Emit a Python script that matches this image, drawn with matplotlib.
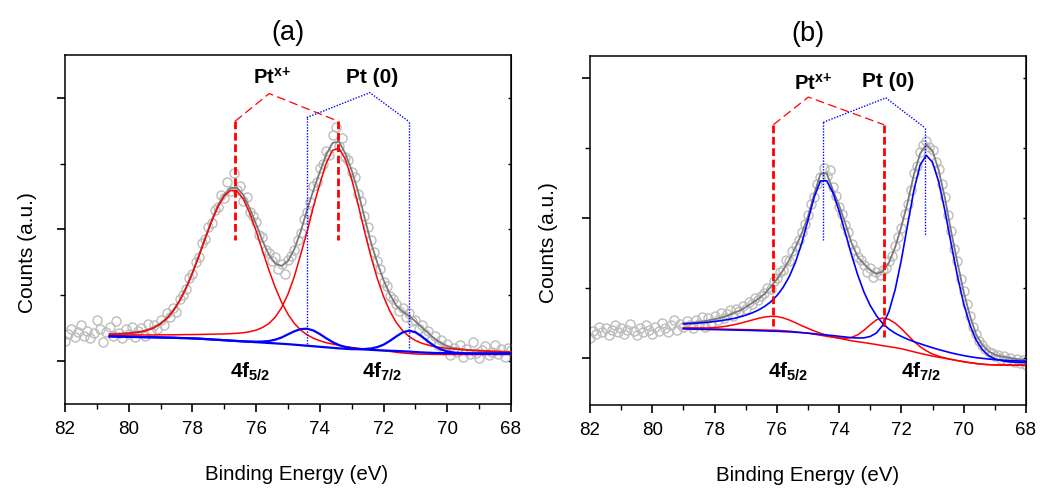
import numpy as np
import matplotlib.pyplot as plt
from matplotlib.ticker import MultipleLocator

plt.rcParams['font.family'] = 'Liberation Sans'
plt.rcParams['mathtext.fontset'] = 'custom'
plt.rcParams['mathtext.rm'] = 'Liberation Sans'
plt.rcParams['mathtext.bf'] = 'Liberation Sans:bold'
plt.rcParams['mathtext.it'] = 'Liberation Sans:italic'

# measured spectra: 82.0 -> 68.0 eV, 0.1 eV step
be_start, be_step = 82.0, 0.1
counts_a = [0.15, 0.20, 0.24, 0.18, 0.22, 0.27, 0.19, 0.23, 0.17, 0.21,
            0.31, 0.24, 0.14, 0.22, 0.26, 0.19, 0.30, 0.21, 0.17, 0.24,
            0.20, 0.26, 0.18, 0.23, 0.25, 0.19, 0.28, 0.22, 0.27, 0.24,
            0.31, 0.27, 0.36, 0.33, 0.40, 0.37, 0.47, 0.50, 0.55, 0.63,
            0.66, 0.75, 0.79, 0.90, 0.93, 1.02, 1.05, 1.15, 1.17, 1.26,
            1.24, 1.36, 1.29, 1.43, 1.30, 1.33, 1.22, 1.25, 1.13, 1.10,
            1.06, 0.96, 0.94, 0.84, 0.82, 0.76, 0.79, 0.70, 0.74, 0.66,
            0.77, 0.80, 0.84, 0.92, 0.97, 1.08, 1.13, 1.21, 1.33, 1.36,
            1.47, 1.50, 1.60, 1.57, 1.72, 1.78, 1.64, 1.70, 1.55, 1.53,
            1.44, 1.40, 1.27, 1.22, 1.10, 1.02, 0.92, 0.83, 0.76, 0.70,
            0.60, 0.57, 0.49, 0.47, 0.43, 0.38, 0.40, 0.33, 0.36, 0.30,
            0.31, 0.24, 0.27, 0.20, 0.23, 0.15, 0.19, 0.12, 0.16, 0.08,
            0.13, 0.04, 0.10, 0.07, 0.12, 0.03, 0.09, 0.05, 0.14, 0.06,
            0.02, 0.08, 0.11, 0.04, 0.07, 0.12, 0.05, 0.09, 0.03, 0.10,
            0.08]
counts_b = [0.14, 0.19, 0.17, 0.22, 0.18, 0.21, 0.16, 0.20, 0.23, 0.18,
            0.21, 0.17, 0.20, 0.24, 0.19, 0.16, 0.21, 0.18, 0.23, 0.20,
            0.17, 0.22, 0.19, 0.25, 0.21, 0.18, 0.23, 0.27, 0.20, 0.24,
            0.22, 0.26, 0.23, 0.21, 0.27, 0.24, 0.29, 0.22, 0.28, 0.25,
            0.30, 0.27, 0.32, 0.28, 0.31, 0.34, 0.30, 0.35, 0.33, 0.37,
            0.35, 0.40, 0.38, 0.43, 0.41, 0.44, 0.46, 0.50, 0.49, 0.55,
            0.57, 0.61, 0.63, 0.70, 0.69, 0.76, 0.80, 0.84, 0.90, 0.96,
            1.02, 1.10, 1.15, 1.24, 1.29, 1.36, 1.30, 1.34, 1.22, 1.16,
            1.08, 1.03, 0.95, 0.90, 0.81, 0.77, 0.72, 0.70, 0.66, 0.61,
            0.64, 0.58, 0.61, 0.59, 0.63, 0.64, 0.69, 0.73, 0.80, 0.86,
            0.93, 1.03, 1.10, 1.20, 1.32, 1.37, 1.47, 1.52, 1.55, 1.51,
            1.49, 1.40, 1.35, 1.24, 1.15, 1.02, 0.91, 0.78, 0.69, 0.56,
            0.48, 0.38, 0.30, 0.22, 0.17, 0.12, 0.09, 0.06, 0.04, 0.03,
            0.01, 0.02, -0.01, 0.01, -0.02, 0.00, -0.03, -0.01, -0.04, -0.02,
            -0.05]

# fitted curves, 0.2 eV step; (a) from 80.6 eV, (b) from 79.0 eV down to 68.0 eV
fit_step = 0.2
fit_start_a = 80.6
fit_start_b = 79.0

envelope_a = [0.204, 0.206, 0.208, 0.212, 0.217, 0.224, 0.236, 0.255, 0.285, 0.326,
              0.384, 0.461, 0.558, 0.672, 0.801, 0.937, 1.068, 1.183, 1.267, 1.315,
              1.318, 1.262, 1.160, 1.040, 0.915, 0.808, 0.740, 0.722, 0.760, 0.850,
              0.985, 1.150, 1.300, 1.440, 1.570, 1.660, 1.670, 1.580, 1.450, 1.290,
              1.095, 0.905, 0.750, 0.615, 0.505, 0.420, 0.375, 0.340, 0.300, 0.255,
              0.210, 0.168, 0.135, 0.112, 0.097, 0.090, 0.084, 0.080, 0.077, 0.075,
              0.073, 0.071, 0.069, 0.068]
bg_red_a = [0.192] * 24 + [0.190, 0.186, 0.181, 0.175, 0.168, 0.160,
            0.152, 0.144, 0.136, 0.128, 0.120, 0.113, 0.106, 0.099, 0.093, 0.088,
            0.083, 0.079, 0.075, 0.071, 0.066, 0.060, 0.055, 0.051, 0.048, 0.047,
            0.046] + [0.045] * 13
bg_blue_a = [0.185, 0.184, 0.183, 0.182, 0.181, 0.180, 0.179, 0.178, 0.177, 0.176,
             0.175, 0.173, 0.172, 0.170, 0.168, 0.165, 0.162, 0.159, 0.156, 0.153,
             0.150, 0.147, 0.144, 0.141, 0.138, 0.135, 0.132, 0.129, 0.126, 0.122,
             0.118, 0.114, 0.110, 0.106, 0.102, 0.098, 0.094, 0.091, 0.088, 0.086,
             0.084, 0.082, 0.080, 0.078, 0.076, 0.074, 0.072, 0.069, 0.066, 0.063,
             0.061, 0.059, 0.058, 0.057, 0.056, 0.056, 0.055, 0.055, 0.055, 0.055,
             0.055, 0.055, 0.055, 0.055]
ptx_52_a = [0.009, 0.011, 0.013, 0.016, 0.021, 0.028, 0.040, 0.059, 0.088, 0.129,
            0.187, 0.263, 0.359, 0.473, 0.601, 0.736, 0.866, 0.980, 1.063, 1.106,
            1.100, 1.039, 0.932, 0.797, 0.649, 0.506, 0.377, 0.270, 0.186, 0.124,
            0.081, 0.053, 0.035, 0.024, 0.017, 0.014, 0.011, 0.009, 0.008, 0.007,
            0.006, 0.006, 0.005, 0.005, 0.005, 0.004, 0.004, 0.004, 0.003, 0.003,
            0.003, 0.003, 0.003, 0.003, 0.002, 0.002, 0.002, 0.002, 0.002, 0.002,
            0.002, 0.002, 0.002, 0.002]
ptx_72_a = [0.003, 0.003, 0.003, 0.004, 0.004, 0.004, 0.004, 0.004, 0.005, 0.005,
            0.005, 0.006, 0.007, 0.007, 0.008, 0.009, 0.010, 0.011, 0.012, 0.014,
            0.017, 0.021, 0.029, 0.041, 0.063, 0.097, 0.151, 0.230, 0.339, 0.482,
            0.658, 0.840, 1.040, 1.220, 1.385, 1.490, 1.514, 1.438, 1.291, 1.104,
            0.907, 0.719, 0.555, 0.418, 0.311, 0.231, 0.174, 0.133, 0.106, 0.086,
            0.073, 0.063, 0.055, 0.049, 0.044, 0.040, 0.036, 0.033, 0.030, 0.028,
            0.026, 0.024, 0.022, 0.021]
pt0_52_a = [0.0] * 22 + [0.002, 0.004, 0.008, 0.015, 0.028, 0.048, 0.075, 0.102,
            0.123, 0.130, 0.120, 0.097, 0.069, 0.044, 0.025, 0.013, 0.007, 0.003,
            0.002, 0.001] + [0.0] * 22
pt0_72_a = [0.0] * 39 + [0.002,
            0.005, 0.011, 0.023, 0.044, 0.075, 0.111, 0.144, 0.160, 0.151, 0.122,
            0.085, 0.052, 0.028, 0.014, 0.006, 0.003, 0.001] + [0.0] * 7

envelope_b = [0.245, 0.248, 0.252, 0.258, 0.265, 0.274, 0.285, 0.298, 0.318, 0.336,
              0.360, 0.390, 0.420, 0.455, 0.505, 0.560, 0.625, 0.700, 0.790, 0.890,
              1.010, 1.170, 1.315, 1.320, 1.200, 1.090, 0.960, 0.820, 0.720, 0.670,
              0.625, 0.600, 0.615, 0.680, 0.790, 0.940, 1.110, 1.310, 1.460, 1.525,
              1.480, 1.340, 1.140, 0.900, 0.680, 0.470, 0.300, 0.165, 0.090, 0.045,
              0.020, 0.008, 0.000, -0.008, -0.014, -0.019]
bg_red_b = [0.212, 0.211, 0.209, 0.208, 0.206, 0.205, 0.204, 0.203, 0.202, 0.201,
            0.200, 0.199, 0.198, 0.197, 0.196, 0.195, 0.192, 0.189, 0.184, 0.179,
            0.174, 0.167, 0.160, 0.152, 0.144, 0.136, 0.128, 0.120, 0.113, 0.107,
            0.100, 0.093, 0.085, 0.078, 0.071, 0.063, 0.052, 0.041, 0.030, 0.020,
            0.010, 0.002, -0.006, -0.014, -0.022, -0.030, -0.037, -0.043, -0.048, -0.051,
            -0.053, -0.054, -0.054, -0.055, -0.055, -0.055]
bg_blue_b = [0.205, 0.204, 0.203, 0.202, 0.201, 0.200, 0.199, 0.198, 0.197, 0.196,
             0.195, 0.194, 0.192, 0.191, 0.189, 0.188, 0.186, 0.184, 0.181, 0.178,
             0.175, 0.170, 0.165, 0.161, 0.157, 0.152, 0.147, 0.142, 0.137, 0.132,
             0.127, 0.121, 0.114, 0.106, 0.098, 0.090, 0.080, 0.070, 0.060, 0.050,
             0.040, 0.030, 0.020, 0.010, 0.002, -0.005, -0.011, -0.017, -0.021, -0.025,
             -0.028, -0.030, -0.032, -0.034, -0.035, -0.036]
ptx_52_b = [0.000, 0.001, 0.002, 0.004, 0.006, 0.010, 0.015, 0.022, 0.032, 0.043,
            0.056, 0.069, 0.082, 0.093, 0.099, 0.099, 0.092, 0.080, 0.065, 0.049,
            0.035, 0.023, 0.014, 0.008, 0.004, 0.002, 0.001] + [0.0] * 29
ptx_72_b = [0.0] * 24 + [0.001, 0.004, 0.010, 0.024, 0.050, 0.089,
            0.135, 0.177, 0.199, 0.195, 0.175, 0.144, 0.109, 0.075, 0.048, 0.028,
            0.015, 0.007, 0.003, 0.001] + [0.0] * 12
pt0_52_b = [0.036, 0.039, 0.043, 0.047, 0.052, 0.058, 0.065, 0.073, 0.082, 0.094,
            0.108, 0.125, 0.147, 0.174, 0.209, 0.255, 0.316, 0.396, 0.503, 0.642,
            0.809, 0.979, 1.100, 1.105, 1.025, 0.897, 0.745, 0.592, 0.453, 0.336,
            0.245, 0.178, 0.130, 0.098, 0.076, 0.061, 0.051, 0.044, 0.039, 0.034,
            0.030, 0.027, 0.025, 0.023, 0.021, 0.019, 0.017, 0.016, 0.015, 0.014,
            0.013, 0.012, 0.011, 0.011, 0.010, 0.010]
pt0_72_b = [0.0] * 28 + [0.003, 0.009,
            0.024, 0.055, 0.117, 0.224, 0.389, 0.611, 0.872, 1.127, 1.319, 1.399,
            1.359, 1.227, 1.029, 0.802, 0.581, 0.391, 0.245, 0.142, 0.077, 0.039,
            0.018, 0.008, 0.003, 0.001, 0.000, 0.000]

panels = [
    dict(title='(a)', counts=counts_a, start=fit_start_a, env=envelope_a,
         bg_r=bg_red_a, bg_b=bg_blue_a, red=[ptx_52_a, ptx_72_a], blue=[pt0_52_a, pt0_72_a],
         ylim=(-0.33, 2.33), blue_lw=1.6,
         red_br=([76.66, 75.59, 73.42], [1.825, 2.036, 1.825]),
         red_v=[(76.66, 1.825, 0.92), (73.42, 1.825, 0.92)],
         blue_br=([74.41, 72.43, 71.19], [1.853, 2.043, 1.82]),
         blue_v=[(74.41, 1.853, 0.12), (71.19, 1.82, 0.084)],
         ptx=(75.5, 2.16), pt0=(72.36, 2.16), f52=(76.18, -0.087), f72=(72.03, -0.087),
         pos=[0.0625, 0.1822, 0.4288, 0.7065], ylab=(-0.063, 0.435), xlab=0.52),
    dict(title='(b)', counts=counts_b, start=fit_start_b, env=envelope_b,
         bg_r=bg_red_b, bg_b=bg_blue_b, red=[ptx_52_b, ptx_72_b], blue=[pt0_52_b, pt0_72_b],
         ylim=(-0.34, 2.16), blue_lw=1.2,
         red_br=([76.11, 74.99, 72.56], [1.668, 1.866, 1.668]),
         red_v=[(76.11, 1.668, 0.224), (72.56, 1.668, 0.15)],
         blue_br=([74.51, 72.5, 71.24], [1.685, 1.86, 1.645]),
         blue_v=[(74.51, 1.685, 0.845), (71.24, 1.645, 0.87)],
         ptx=(74.84, 1.96), pt0=(72.43, 1.98), f52=(75.64, -0.104), f72=(71.35, -0.104),
         pos=[0.5673, 0.1802, 0.4192, 0.7064], ylab=(-0.073, 0.466), xlab=0.5),
]

fig = plt.figure(figsize=(10.4, 4.94), dpi=100)

for p in panels:
    ax = fig.add_axes(p['pos'])
    be = be_start - be_step * np.arange(len(p['counts']))
    fx = p['start'] - fit_step * np.arange(len(p['env']))
    bg_r = np.array(p['bg_r'])
    bg_b = np.array(p['bg_b'])

    ax.plot(be, p['counts'], 'o', mfc='none', mec='#bcbcbc', ms=6.5, mew=1.0, zorder=1)
    ax.plot(fx, p['env'], color='#7a7a7a', lw=1.3, zorder=3)
    for comp in p['red']:
        ax.plot(fx, bg_r + np.array(comp), color='#ff0000', lw=1.1, zorder=4)
    for comp in p['blue']:
        ax.plot(fx, bg_b + np.array(comp), color='#0000ff', lw=p['blue_lw'], zorder=5)

    # peak assignment brackets
    ax.plot(*p['red_br'], color='#ff0000', lw=0.9, ls=(0, (7, 3.5)), zorder=6)
    for x, y0, y1 in p['red_v']:
        ax.plot([x, x], [y0, y1], color='#ff0000', lw=2.0, ls=(0, (2.8, 1.3)), zorder=6)
    ax.plot(*p['blue_br'], color='#0000ff', lw=1.0, ls=(0, (1, 1.1)), zorder=6)
    for x, y0, y1 in p['blue_v']:
        ax.plot([x, x], [y0, y1], color='#0000ff', lw=1.0, ls=(0, (1, 1.1)), zorder=6)

    ax.text(*p['ptx'], r'$\mathbf{Pt^{x\!+}}$', fontsize=14.5, ha='center', va='center')
    ax.text(*p['pt0'], 'Pt (0)', fontsize=15, fontweight='bold', ha='center', va='center')
    ax.text(*p['f52'], r'$\mathbf{4f_{5/2}}$', fontsize=15, ha='center', va='center')
    ax.text(*p['f72'], r'$\mathbf{4f_{7/2}}$', fontsize=15, ha='center', va='center')

    ax.set_xlim(82, 68)
    ax.set_ylim(*p['ylim'])
    ax.xaxis.set_major_locator(MultipleLocator(2))
    ax.xaxis.set_minor_locator(MultipleLocator(1))
    ax.yaxis.set_major_locator(MultipleLocator(1))
    ax.yaxis.set_minor_locator(MultipleLocator(0.5))
    ax.tick_params(axis='x', which='major', direction='out', length=6, width=1.2,
                   labelsize=13.5, pad=6)
    ax.tick_params(axis='x', which='minor', direction='out', length=3.5, width=1.0)
    ax.tick_params(axis='y', which='major', direction='out', length=6, width=1.2, labelleft=False)
    ax.tick_params(axis='y', which='minor', direction='out', length=3.5, width=1.0)
    for s in ax.spines.values():
        s.set_linewidth(1.1)

    sec = ax.secondary_yaxis('right')
    sec.yaxis.set_major_locator(MultipleLocator(1))
    sec.yaxis.set_minor_locator(MultipleLocator(0.5))
    sec.tick_params(which='both', direction='in', length=2.5, width=1.0, labelright=False)

    ax.set_title(p['title'], fontsize=19.5, pad=11)
    ax.set_ylabel('Counts (a.u.)', fontsize=15)
    ax.yaxis.set_label_coords(*p['ylab'])
    ax.set_xlabel('Binding Energy (eV)', fontsize=14.8)
    ax.xaxis.set_label_coords(p['xlab'], -0.175)

fig.savefig('out.png', dpi=100)
